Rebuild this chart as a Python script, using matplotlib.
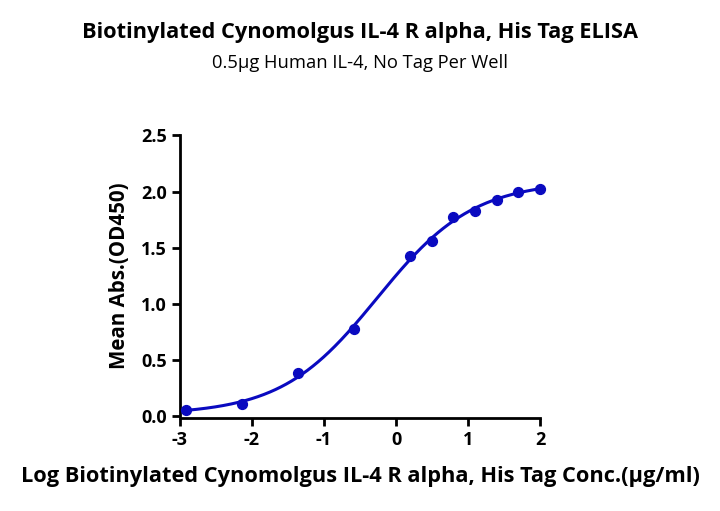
import numpy as np
import matplotlib
matplotlib.use("Agg")
import matplotlib.pyplot as plt

title = "Biotinylated Cynomolgus IL-4 R alpha, His Tag ELISA"
subtitle = "0.5μg Human IL-4, No Tag Per Well"
xlabel = "Log Biotinylated Cynomolgus IL-4 R alpha, His Tag Conc.(μg/ml)"
ylabel = "Mean Abs.(OD450)"

log_conc = [-2.918, -2.140, -1.362, -0.584, 0.194, 0.495, 0.796, 1.097, 1.398, 1.699, 2.000]
od450 = [0.059, 0.112, 0.385, 0.775, 1.426, 1.562, 1.778, 1.825, 1.923, 2.000, 2.024]
xticks = [-3, -2, -1, 0, 1, 2]
yticks = [0.0, 0.5, 1.0, 1.5, 2.0, 2.5]

x = np.array(log_conc)
y = np.array(od450)

# 4-parameter logistic fit: grid over (logEC50, hill), linear LSQ for bottom/top
best = None
for c in np.linspace(-1.5, 1.0, 251):
    for h in np.linspace(0.3, 2.0, 171):
        s = 1.0 / (1.0 + 10 ** ((c - x) * h))
        A = np.column_stack([1 - s, s])
        coef, *_ = np.linalg.lstsq(A, y, rcond=None)
        r = np.sum((A @ coef - y) ** 2)
        if best is None or r < best[0]:
            best = (r, c, h, coef)
_, c, h, (bottom, top) = best
xf = np.linspace(min(log_conc), max(log_conc), 400)
sf = 1.0 / (1.0 + 10 ** ((c - xf) * h))
yf = bottom + (top - bottom) * sf

plt.rcParams['font.family'] = ['Open Sans', 'DejaVu Sans']
fig = plt.figure(figsize=(7.2, 5.11), dpi=100)
ax = fig.add_axes([0.25, 0.185, 0.50, 0.55])
color = '#0a0ac0'
ax.plot(xf, yf, color=color, lw=2.2, zorder=2)
ax.scatter(x, y, s=50, color=color, zorder=3, clip_on=False)

ax.set_xlim(-3, 2)
ax.set_ylim(0, 2.5)
ax.set_xticks(xticks)
ax.set_yticks(yticks)
ax.set_xticklabels([str(t) for t in xticks])
ax.set_yticklabels([f"{t:.1f}" for t in yticks])
for s in ['top', 'right']:
    ax.spines[s].set_visible(False)
for s in ['left', 'bottom']:
    ax.spines[s].set_linewidth(2)
ax.spines['bottom'].set_position(('outward', 1))
ax.tick_params(axis='both', width=2, length=6, labelsize=13)
for lab in ax.get_xticklabels() + ax.get_yticklabels():
    lab.set_fontweight('bold')
ax.set_xlabel(xlabel, fontsize=15.7, fontweight='bold', labelpad=12)
ax.set_ylabel(ylabel, fontsize=14.8, fontweight='bold', labelpad=8)

fig.text(0.5, 0.925, title, ha='center', fontsize=15.7, fontweight='bold')
fig.text(0.5, 0.866, subtitle, ha='center', fontsize=13.2)

fig.savefig("out.png", dpi=100)
